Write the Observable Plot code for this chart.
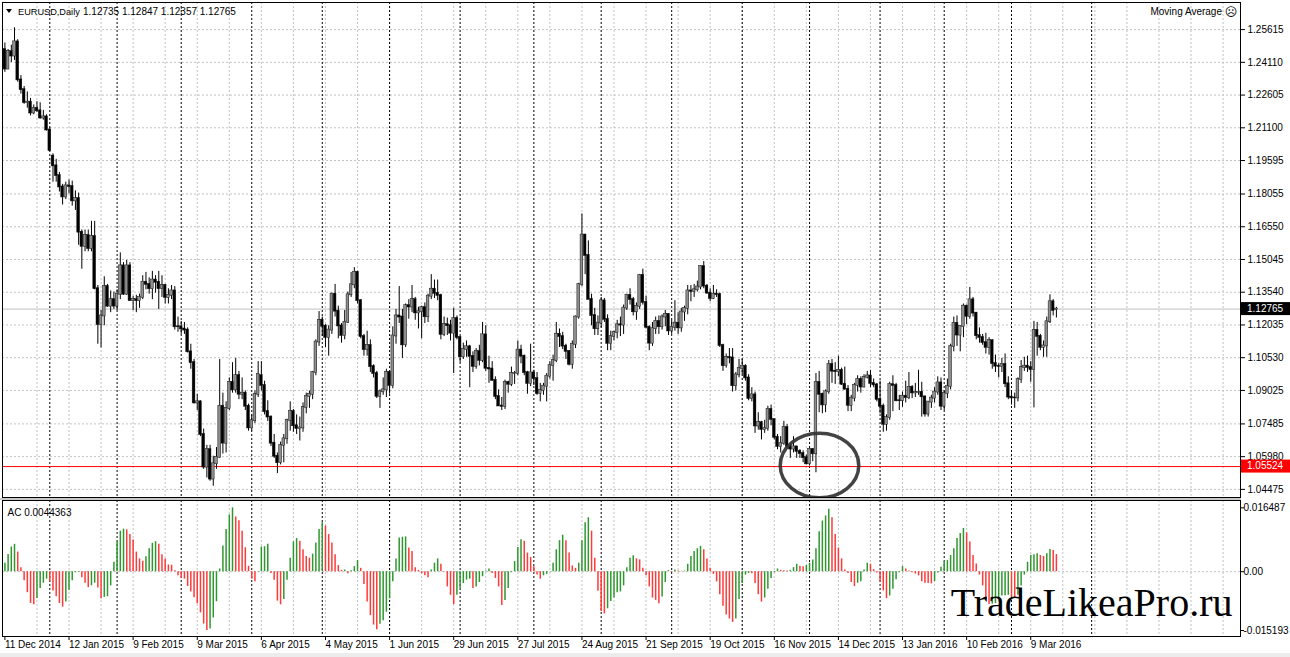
<!DOCTYPE html>
<html><head><meta charset="utf-8">
<script src="https://cdn.jsdelivr.net/npm/d3@7"></script>
<script src="https://cdn.jsdelivr.net/npm/@observablehq/plot@0.6"></script>
<style>
html,body{margin:0;padding:0;background:#fff;}
#chart{position:relative;width:1290px;height:657px;overflow:hidden;background:#fff;}
#chart svg{position:absolute;left:0;}
</style></head><body><div id="chart"></div>
<script>
// ---------------- DATA ----------------
const symbolTitle = "EURUSD,Daily";
const headerQuote = [1.12735, 1.12847, 1.12357, 1.12765];
const indicatorName = "Moving Average";
const acLabel = "AC 0.0044363";
const watermark = "TradeLikeaPro.ru";
const bidPrice = 1.12765;
const levelPrice = 1.05524;
const priceTicks = [1.25615, 1.24110, 1.22605, 1.21100, 1.19595, 1.18055, 1.16550, 1.15045, 1.13540, 1.12035, 1.10530, 1.09025, 1.07485, 1.05980, 1.04475];
const acTicks = [0.016487, 0, -0.015193];
const dateLabels = ["11 Dec 2014","12 Jan 2015","9 Feb 2015","9 Mar 2015","6 Apr 2015","4 May 2015","1 Jun 2015","29 Jun 2015","27 Jul 2015","24 Aug 2015","21 Sep 2015","19 Oct 2015","16 Nov 2015","14 Dec 2015","13 Jan 2016","10 Feb 2016","9 Mar 2016"];
const dateLabelBars = [0,20,40,60,80,100,120,140,160,180,200,220,240,260,280,300,320];
const monthStarts = [14,35,55,77,99,120,142,165,186,208,230,251,273,293,314,339];
const annotation = [{bar: 254.1, price: 1.05574}];

const opens = [
1.2470,1.2380,
1.2460,1.2440,1.2505,1.2330,1.2285,
1.2226,1.2228,1.2178,1.2200,
1.2188,1.2155,1.2160,1.2100,
1.1980,1.1935,1.1890,1.1838,1.1792,
1.1843,1.1840,1.1774,1.1785,1.1630,
1.1565,1.1615,1.1555,1.1610,1.1370,
1.1205,1.1245,1.1380,1.1290,1.1320,
1.1290,1.1345,1.1475,1.1345,1.1475,
1.1315,1.1320,1.1315,1.1330,1.1400,
1.1390,1.1370,1.1410,1.1400,1.1370,
1.1385,1.1330,1.1340,1.1360,1.1195,
1.1195,1.1185,1.1180,1.1080,1.1030,
1.0845,1.0850,1.0700,1.0550,1.0630,
1.0495,1.0565,1.0595,1.0830,1.0660,
1.0820,1.0940,1.0905,1.0970,1.0885,
1.0890,1.0830,1.0730,1.0763,1.0885,
1.0970,1.0925,1.0805,1.0780,1.0660,
1.0600,1.0570,1.0650,1.0680,1.0765,
1.0805,1.0740,1.0727,1.0730,1.0825,
1.0875,1.0885,1.0985,1.1125,1.1225,
1.1198,1.1146,1.1180,1.1345,1.1267,
1.1199,1.1155,1.1216,1.1342,1.1388,
1.1446,1.1315,1.1150,1.1090,1.1109,
1.1012,1.0980,1.0875,1.0896,1.0905,
1.0986,1.0925,1.1153,1.1245,1.1240,
1.1112,1.1292,1.1286,1.1320,1.1259,
1.1264,1.1283,1.1241,1.1336,1.1368,
1.1349,1.1339,1.1160,1.1205,1.1200,
1.1166,1.1233,1.1146,1.1057,1.1090,
1.1103,1.1059,1.1013,1.1081,1.1041,
1.1158,1.1004,1.1001,1.0949,1.0875,
1.0831,1.0829,1.0939,1.0931,1.0980,
1.0981,1.1088,1.1060,1.0984,1.0935,
1.0983,1.0957,1.0888,1.0902,1.0922,
1.0968,1.1016,1.1039,1.1161,1.1150,
1.1106,1.1082,1.1023,1.1114,1.1240,
1.1389,1.1617,1.1523,1.1321,1.1247,
1.1186,1.1212,1.1314,1.1229,1.1119,
1.1150,1.1168,1.1204,1.1203,1.1281,
1.1340,1.1320,1.1264,1.1289,1.1432,
1.1307,1.1193,1.1120,1.1186,1.1220,
1.1195,1.1240,1.1252,1.1176,1.1193,
1.1212,1.1190,1.1263,1.1280,1.1360,
1.1358,1.1365,1.1378,1.1472,1.1382,
1.1350,1.1325,1.1345,1.1343,1.1109,
1.1016,1.1054,1.1052,1.0924,1.0974,
1.1003,1.1014,1.0960,1.0865,1.0882,
1.0739,1.0754,1.0723,1.0728,1.0815,
1.0769,1.0687,1.0645,1.0658,1.0732,
1.0645,1.0633,1.0643,1.0622,1.0612,
1.0593,1.0565,1.0631,1.0611,1.0939,
1.0885,1.0836,1.0896,1.1022,1.0991,
1.0989,1.0995,1.0931,1.0908,1.0834,
1.0867,1.0926,1.0953,1.0918,
1.0963,1.0969,1.0935,1.0928,
1.0861,1.0830,1.0747,1.0777,1.0929,
1.0925,1.0855,1.0855,1.0876,1.0869,
1.0917,1.0891,1.0893,1.0894,1.0873,
1.0794,1.0849,1.0867,1.0895,1.0937,
1.0830,1.0888,1.0920,1.1104,1.1211,
1.1157,1.1196,1.1290,1.1243,1.1319,
1.1258,1.1154,1.1146,1.1122,1.1100,
1.1131,1.1026,1.1014,1.1013,1.1022,
1.0933,1.0872,1.0868,1.0868,1.0953,
1.1008,1.1014,1.1008,1.0998,1.1179,
1.1151,1.1101,1.1107,1.1218,1.1310,
1.12735];

const highs = [
1.2500,1.2470,
1.2490,1.2570,1.2515,1.2350,1.2300,
1.2275,1.2245,1.2215,1.2230,
1.2225,1.2190,1.2170,1.2110,
1.1990,1.1965,1.1905,1.1850,1.1860,
1.1870,1.1865,1.1820,1.1810,1.1640,
1.1640,1.1640,1.1680,1.1680,1.1385,
1.1270,1.1425,1.1390,1.1360,1.1355,
1.1365,1.1535,1.1490,1.1500,1.1490,
1.1335,1.1340,1.1345,1.1430,1.1445,
1.1420,1.1450,1.1430,1.1450,1.1430,
1.1390,1.1370,1.1385,1.1380,1.1240,
1.1220,1.1215,1.1190,1.1115,1.1045,
1.0885,1.0855,1.0725,1.0650,1.0650,
1.0600,1.0640,1.1045,1.0890,1.0850,
1.0960,1.1030,1.1050,1.0990,1.0960,
1.0900,1.0840,1.0790,1.0900,1.1035,
1.1035,1.0945,1.0855,1.0785,1.0700,
1.0615,1.0665,1.0700,1.0770,1.0850,
1.0815,1.0790,1.0780,1.0845,1.0890,
1.0900,1.0990,1.1135,1.1265,1.1240,
1.1205,1.1200,1.1350,1.1390,1.1290,
1.1210,1.1270,1.1355,1.1445,1.1467,
1.1450,1.1320,1.1160,1.1175,1.1135,
1.1020,1.0990,1.0905,1.0960,1.1000,
1.0990,1.1195,1.1275,1.1380,1.1275,
1.1300,1.1320,1.1385,1.1330,1.1285,
1.1290,1.1305,1.1345,1.1435,1.1410,
1.1410,1.1345,1.1240,1.1235,1.1225,
1.1280,1.1245,1.1150,1.1120,1.1130,
1.1110,1.1080,1.1095,1.1110,1.1215,
1.1200,1.1060,1.1035,1.0965,1.0905,
1.0870,1.0950,1.0945,1.1010,1.0990,
1.1130,1.1110,1.1065,1.0990,1.1115,
1.0995,1.0985,1.0935,1.0935,1.0980,
1.1035,1.1065,1.1215,1.1185,1.1170,
1.1115,1.1085,1.1130,1.1245,1.1395,
1.1714,1.1620,1.1590,1.1345,1.1280,
1.1245,1.1330,1.1325,1.1250,1.1175,
1.1175,1.1225,1.1240,1.1295,1.1345,
1.1370,1.1330,1.1305,1.1436,1.1460,
1.1335,1.1200,1.1215,1.1240,1.1245,
1.1250,1.1270,1.1255,1.1225,1.1315,
1.1260,1.1280,1.1290,1.1385,1.1385,
1.1390,1.1405,1.1475,1.1495,1.1390,
1.1370,1.1385,1.1365,1.1350,1.1115,
1.1070,1.1095,1.1095,1.0985,1.1045,
1.1045,1.1020,1.0975,1.0915,1.0895,
1.0800,1.0760,1.0765,1.0830,1.0835,
1.0770,1.0700,1.0690,1.0760,1.0745,
1.0660,1.0690,1.0645,1.0630,1.0625,
1.0605,1.0640,1.0635,1.0980,1.0990,
1.0890,1.0905,1.1040,1.1045,1.1030,
1.1060,1.1005,1.1010,1.0925,1.0880,
1.0935,1.0970,1.0965,1.0975,
1.0990,1.0995,1.0955,1.0935,
1.0945,1.0840,1.0790,1.0940,1.0970,
1.0935,1.0880,1.0895,1.0945,1.0985,
1.0925,1.0935,1.0995,1.0940,1.0875,
1.0850,1.0880,1.0915,1.0965,1.0960,
1.0900,1.0955,1.1115,1.1240,1.1245,
1.1200,1.1300,1.1295,1.1376,1.1330,
1.1260,1.1190,1.1160,1.1165,1.1145,
1.1135,1.1065,1.1025,1.1050,1.1070,
1.0965,1.0895,1.0890,1.0960,1.1040,
1.1055,1.1060,1.1035,1.1220,1.1215,
1.1160,1.1130,1.1240,1.1342,1.1320,
1.12847];

const lows = [
1.2365,1.2380,
1.2410,1.2420,1.2320,1.2265,1.2218,
1.2200,1.2165,1.2170,1.2180,
1.2150,1.2145,1.2095,1.2000,
1.1860,1.1860,1.1815,1.1755,1.1780,
1.1805,1.1750,1.1730,1.1570,1.1460,
1.1540,1.1540,1.1540,1.1365,1.1115,
1.1098,1.1200,1.1285,1.1260,1.1275,
1.1270,1.1320,1.1340,1.1340,1.1315,
1.1270,1.1260,1.1280,1.1320,1.1365,
1.1345,1.1320,1.1350,1.1275,1.1330,
1.1300,1.1300,1.1320,1.1180,1.1170,
1.1160,1.1160,1.1075,1.1000,1.0840,
1.0810,1.0690,1.0540,1.0500,1.0485,
1.0462,1.0540,1.0590,1.0610,1.0615,
1.0810,1.0890,1.0890,1.0860,1.0860,
1.0810,1.0715,1.0715,1.0750,1.0870,
1.0900,1.0790,1.0760,1.0645,1.0590,
1.0520,1.0560,1.0570,1.0655,1.0715,
1.0710,1.0700,1.0670,1.0710,1.0795,
1.0820,1.0860,1.0970,1.1105,1.1150,
1.1100,1.1060,1.1160,1.1240,1.1140,
1.1120,1.1135,1.1210,1.1330,1.1370,
1.1300,1.1140,1.1060,1.1060,1.0985,
1.0960,1.0865,1.0820,1.0880,1.0870,
1.0885,1.0910,1.1115,1.1210,1.1050,
1.1100,1.1230,1.1260,1.1225,1.1185,
1.1140,1.1210,1.1215,1.1320,1.1325,
1.1315,1.1135,1.1150,1.1155,1.1130,
1.0980,1.1135,1.1030,1.1045,1.1055,
1.0915,1.0985,1.1000,1.1015,1.1030,
1.0990,1.0935,1.0945,1.0860,1.0830,
1.0810,1.0815,1.0890,1.0920,1.0930,
1.0970,1.1025,1.0970,1.0885,1.0920,
1.0925,1.0880,1.0850,1.0880,1.0850,
1.0955,1.0945,1.1030,1.1100,1.1090,
1.1045,1.1015,1.1000,1.1095,1.1230,
1.1380,1.1435,1.1320,1.1200,1.1155,
1.1155,1.1190,1.1215,1.1085,1.1085,
1.1130,1.1140,1.1150,1.1160,1.1270,
1.1295,1.1245,1.1225,1.1275,1.1295,
1.1185,1.1085,1.1105,1.1160,1.1160,
1.1180,1.1195,1.1155,1.1160,1.1175,
1.1160,1.1170,1.1220,1.1250,1.1310,
1.1330,1.1355,1.1365,1.1370,1.1345,
1.1310,1.1320,1.1330,1.1100,1.0990,
1.1005,1.1025,1.0895,1.0900,1.0960,
1.0975,1.0945,1.0855,1.0850,1.0705,
1.0720,1.0675,1.0705,1.0715,1.0740,
1.0675,1.0630,1.0615,1.0650,1.0635,
1.0590,1.0615,1.0590,1.0590,1.0570,
1.0560,1.0555,1.0575,1.0524,1.0800,
1.0795,1.0800,1.0885,1.0935,1.0930,
1.0965,1.0925,1.0905,1.0805,1.0805,
1.0850,1.0895,1.0890,1.0915,
1.0955,1.0915,1.0915,1.0850,
1.0795,1.0710,1.0715,1.0765,1.0805,
1.0850,1.0810,1.0825,1.0845,1.0860,
1.0865,1.0870,1.0880,1.0780,1.0780,
1.0780,1.0820,1.0845,1.0880,1.0810,
1.0810,1.0865,1.0905,1.1080,1.1105,
1.1080,1.1145,1.1205,1.1230,1.1240,
1.1135,1.1120,1.1110,1.1070,1.1065,
1.1000,1.0985,1.0960,1.0985,1.0915,
1.0860,1.0835,1.0820,1.0850,1.0935,
1.0990,1.0985,1.0940,1.0822,1.1060,
1.1085,1.1055,1.1055,1.1210,1.1245,
1.12357];

const closes = [
1.2380,1.2460,
1.2440,1.2505,1.2330,1.2285,1.2226,
1.2228,1.2178,1.2200,1.2188,
1.2155,1.2160,1.2100,1.2005,
1.1935,1.1890,1.1838,1.1792,1.1843,
1.1840,1.1774,1.1785,1.1630,1.1565,
1.1615,1.1555,1.1610,1.1370,1.1205,
1.1245,1.1380,1.1290,1.1320,1.1290,
1.1345,1.1475,1.1345,1.1475,1.1315,
1.1320,1.1315,1.1330,1.1400,1.1390,
1.1370,1.1410,1.1400,1.1370,1.1385,
1.1330,1.1340,1.1360,1.1195,1.1195,
1.1185,1.1180,1.1080,1.1030,1.0845,
1.0850,1.0700,1.0550,1.0630,1.0495,
1.0565,1.0595,1.0830,1.0660,1.0820,
1.0940,1.0905,1.0970,1.0885,1.0890,
1.0830,1.0730,1.0763,1.0885,1.0975,
1.0925,1.0805,1.0780,1.0660,1.0600,
1.0570,1.0650,1.0680,1.0765,1.0805,
1.0740,1.0727,1.0730,1.0825,1.0875,
1.0885,1.0985,1.1125,1.1225,1.1198,
1.1146,1.1180,1.1345,1.1267,1.1199,
1.1155,1.1216,1.1342,1.1388,1.1446,
1.1315,1.1150,1.1090,1.1109,1.1012,
1.0980,1.0875,1.0896,1.0905,1.0986,
1.0925,1.1153,1.1245,1.1240,1.1112,
1.1292,1.1286,1.1320,1.1259,1.1264,
1.1283,1.1241,1.1336,1.1368,1.1349,
1.1339,1.1160,1.1205,1.1200,1.1166,
1.1233,1.1146,1.1057,1.1090,1.1103,
1.1059,1.1013,1.1081,1.1041,1.1158,
1.1004,1.1001,1.0949,1.0875,1.0831,
1.0829,1.0939,1.0931,1.0980,1.0981,
1.1088,1.1060,1.0984,1.0935,1.0983,
1.0957,1.0888,1.0902,1.0922,1.0968,
1.1016,1.1039,1.1161,1.1150,1.1106,
1.1082,1.1023,1.1114,1.1240,1.1389,
1.1617,1.1523,1.1321,1.1247,1.1186,
1.1212,1.1314,1.1229,1.1119,1.1150,
1.1168,1.1204,1.1203,1.1281,1.1340,
1.1320,1.1264,1.1289,1.1432,1.1307,
1.1193,1.1120,1.1186,1.1220,1.1195,
1.1240,1.1252,1.1176,1.1193,1.1212,
1.1190,1.1263,1.1280,1.1360,1.1358,
1.1365,1.1378,1.1472,1.1382,1.1350,
1.1325,1.1345,1.1343,1.1109,1.1016,
1.1054,1.1052,1.0924,1.0974,1.1003,
1.1014,1.0960,1.0865,1.0882,1.0739,
1.0754,1.0723,1.0728,1.0815,1.0769,
1.0687,1.0645,1.0658,1.0732,1.0645,
1.0633,1.0643,1.0622,1.0612,1.0593,
1.0565,1.0631,1.0611,1.0939,1.0885,
1.0836,1.0896,1.1022,1.0991,1.0989,
1.0995,1.0931,1.0908,1.0834,1.0867,
1.0926,1.0953,1.0918,1.0963,
1.0969,1.0935,1.0928,1.0861,
1.0830,1.0747,1.0777,1.0929,1.0925,
1.0855,1.0855,1.0876,1.0869,1.0917,
1.0891,1.0893,1.0894,1.0873,1.0794,
1.0849,1.0867,1.0895,1.0937,1.0830,
1.0888,1.0920,1.1104,1.1211,1.1157,
1.1196,1.1290,1.1243,1.1319,1.1258,
1.1154,1.1146,1.1122,1.1100,1.1131,
1.1026,1.1014,1.1013,1.1022,1.0933,
1.0872,1.0868,1.0868,1.0953,1.1008,
1.1014,1.1008,1.0998,1.1179,1.1151,
1.1101,1.1107,1.1218,1.1310,1.1270,
1.12765];

const acValues = [
0.00218,0.00445,0.00637,0.00706,0.00506,0.00105,-0.00235,-0.00541,-0.0082,-0.00855,
-0.00689,-0.00436,-0.00296,-0.00192,-0.00262,-0.00497,-0.00645,-0.0082,-0.00916,-0.00785,
-0.0048,-0.00235,-0.00026,-0.00017,-0.00157,-0.00296,-0.0041,-0.00366,-0.00296,-0.00419,
-0.00698,-0.00663,-0.00645,-0.00366,0.00244,0.00767,0.01046,0.01099,0.01081,0.00959,
0.0082,0.00506,0.00331,0.0027,0.00384,0.00593,0.00732,0.00776,0.00706,0.00436,
0.00331,0.00174,0.00166,0.00026,-0.00105,-0.00166,-0.00192,-0.00384,-0.00523,-0.00671,
-0.00828,-0.01064,-0.01352,-0.015193,-0.01482,-0.01195,-0.00776,0.0007,0.00663,0.0109,
0.01465,0.016487,0.01413,0.01317,0.01046,0.00619,0.0014,-0.00192,-0.00262,-0.00017,
0.00637,0.00645,0.00706,-0.00044,-0.00218,-0.00759,-0.00855,-0.00715,-0.00218,0.00349,
0.00767,0.00855,0.00785,0.00567,0.00392,0.00349,0.00453,0.00741,0.0109,0.01264,
0.01177,0.00959,0.00741,0.00436,0.00157,0.00035,0.00044,-0.00052,0.00026,0.00131,
0.00288,0.00087,-0.00331,-0.00785,-0.01134,-0.01378,-0.015,-0.0136,-0.01264,-0.01046,
-0.00698,-0.00262,0.00331,0.00872,0.00889,0.00898,0.0061,0.00523,0.00105,0.00035,
-0.00052,-0.00105,-0.00157,0.00044,0.00218,0.00331,0.00192,-0.00017,-0.00392,-0.0061,
-0.00846,-0.0061,-0.00436,-0.00305,-0.00218,-0.00192,-0.00436,-0.00392,-0.00279,-0.00131,
0.00017,0.0007,-0.00044,-0.00174,-0.00392,-0.00872,-0.00741,-0.00436,-0.00026,0.00262,
0.00628,0.00828,0.00785,0.0048,0.00366,0.00131,-0.00087,-0.00192,-0.00105,-0.0007,
0.00002,0.00218,0.00567,0.00802,0.00942,0.00802,0.0048,0.00148,0.00087,0.00218,
0.00802,0.01264,0.01395,0.01046,0.00349,-0.00506,-0.01029,-0.0109,-0.00959,-0.00767,
-0.0068,-0.00541,-0.00523,-0.00366,0.00105,0.00349,0.0041,0.00331,0.00305,0.00087,
-0.00105,-0.00392,-0.0068,-0.00741,-0.00828,-0.00654,-0.00279,0.00026,-0.00017,0.00044,
0.00017,0.00009,0.00017,0.00192,0.00392,0.00523,0.00593,0.00654,0.00567,0.00331,
0.00087,-0.0007,-0.00262,-0.00593,-0.00889,-0.01116,-0.01221,-0.01308,-0.01221,-0.00715,
-0.00305,-0.00087,-0.00044,-0.00052,-0.00305,-0.00593,-0.00785,-0.0068,-0.00453,-0.00174,
-0.00026,0.0007,0.00035,0.00026,0.00017,0.00035,0.00105,0.00192,0.0014,0.00131,
0.00157,0.00218,0.00305,0.00593,0.01029,0.01308,0.01439,0.01613,0.01395,0.00959,
0.0061,0.00331,0.00044,-0.00044,-0.00279,-0.00384,-0.00296,-0.00262,0.00044,0.00218,
0.00192,0.00052,-0.00035,-0.00262,-0.00497,-0.00698,-0.00628,-0.00453,-0.00209,-0.00026,
0.00131,0.0007,0.00017,-0.00026,-0.00061,-0.00105,-0.00262,-0.00296,-0.00305,-0.00314,
-0.00253,-0.00035,0.00113,0.00262,0.00288,0.00419,0.00593,0.00855,0.00985,0.01116,
0.01003,0.00767,0.00419,0.00201,-0.00087,-0.00366,-0.00715,-0.00846,-0.00837,-0.0082,
-0.00715,-0.00628,-0.00619,-0.0061,-0.0066,-0.00672,-0.0061,-0.00366,-0.00087,0.00244,
0.00419,0.00436,0.00462,0.00419,0.00392,0.00462,0.00576,0.00549,0.0044363];

// ---------------- CHART ----------------
const FONT = '"Liberation Sans", Arial, sans-serif';
const X_DOMAIN = [-0.749, 385.43];
const GREEN = "#2f972f", RED = "#ff3a3a";
const gridBars = d3.range(10, 390, 10);

const bars = closes.map((c, i) => ({i, o: opens[i], h: highs[i], l: lows[i], c}));
const acBars = acValues.map((v, i) => ({i, v, col: (i === 0 || v > acValues[i - 1]) ? GREEN : RED}));
const dateTicks = dateLabels.map((label, k) => ({label, bar: dateLabelBars[k]}));

const ellipseSymbol = {
  draw(ctx, size) {
    const r = Math.sqrt(size / Math.PI), rx = r * 1.19, ry = r * 0.98, k = 0.5523;
    ctx.moveTo(rx, 0);
    ctx.bezierCurveTo(rx, ry * k, rx * k, ry, 0, ry);
    ctx.bezierCurveTo(-rx * k, ry, -rx, ry * k, -rx, 0);
    ctx.bezierCurveTo(-rx, -ry * k, -rx * k, -ry, 0, -ry);
    ctx.bezierCurveTo(rx * k, -ry, rx, -ry * k, rx, 0);
    ctx.closePath();
  }
};

const mainPlot = Plot.plot({
  width: 1290, height: 498,
  marginLeft: 2, marginRight: 50, marginTop: 2, marginBottom: 1,
  style: {fontFamily: FONT, fontSize: "10px", background: "none", color: "#000", overflow: "visible"},
  x: {domain: X_DOMAIN, axis: null},
  y: {domain: [1.04102, 1.26861], axis: "right", ticks: priceTicks, tickFormat: d => d.toFixed(5), tickSize: 4, tickPadding: 3, label: null},
  color: {type: "identity"},
  marks: [
    Plot.ruleY(priceTicks, {stroke: "#c2c2c2", strokeDasharray: "2,2"}),
    Plot.ruleX(gridBars, {stroke: "#c2c2c2", strokeDasharray: "2,2"}),
    Plot.ruleX(monthStarts, {stroke: "#000", strokeDasharray: "2,2"}),
    Plot.ruleY([bidPrice], {stroke: "#c0c0c0"}),
    Plot.ruleY([levelPrice], {stroke: "#ff0000"}),
    Plot.ruleX(bars, {x: "i", y1: "l", y2: "h", stroke: "#000", strokeWidth: 1}),
    Plot.rect(bars, {x1: d => d.i - 0.42, x2: d => d.i + 0.42, y1: "o", y2: "c", insetTop: -0.5, insetBottom: -0.5,
      fill: d => d.c > d.o ? "#8e8e8e" : "#000", stroke: "#111", strokeWidth: 0.5}),
    Plot.dot(annotation, {x: "bar", y: "price", r: 33, symbol: ellipseSymbol, stroke: "#333", strokeWidth: 3.5, strokeOpacity: 0.92, fill: "none"}),
    Plot.frame({stroke: "#000"})
  ]
});

const subPlot = Plot.plot({
  width: 1290, height: 159,
  marginLeft: 2, marginRight: 50, marginTop: 2, marginBottom: 21,
  style: {fontFamily: FONT, fontSize: "10px", background: "none", color: "#000", overflow: "visible"},
  x: {domain: X_DOMAIN, axis: null},
  y: {domain: [-0.016731, 0.018384], axis: "right", ticks: acTicks, tickFormat: d => d === 0 ? "0.00" : d.toFixed(6), tickSize: 3, tickPadding: 0, label: null},
  color: {type: "identity"},
  marks: [
    Plot.ruleY([0], {stroke: "#c2c2c2", strokeDasharray: "2,2"}),
    Plot.ruleX(gridBars, {stroke: "#c2c2c2", strokeDasharray: "2,2"}),
    Plot.ruleX(monthStarts, {stroke: "#000", strokeDasharray: "2,2"}),
    Plot.ruleX(acBars, {x: "i", y1: 0, y2: "v", stroke: "col", strokeWidth: 1.5}),
    Plot.ruleX(dateTicks, {x: "bar", insetTop: 136, insetBottom: -4, stroke: "#000"}),
    Plot.text(dateTicks, {x: "bar", text: "label", frameAnchor: "bottom", dy: 11, textAnchor: "start", fill: "#000"}),
    Plot.text([acLabel], {frameAnchor: "top-left", dx: 5, dy: 8, textAnchor: "start", fill: "#000"}),
    Plot.text([watermark], {frameAnchor: "bottom-right", dx: -8, dy: -21, textAnchor: "end", fontFamily: '"Liberation Serif", "Times New Roman", serif', fontSize: 40, fill: "#000"}),
    Plot.frame({stroke: "#000"})
  ]
});

const chart = document.getElementById("chart");
mainPlot.style.top = "0px";
subPlot.style.top = "498px";
chart.appendChild(mainPlot);
chart.appendChild(subPlot);

// separator between panes
const sep = document.createElement("div");
sep.style.cssText = "position:absolute;left:0;top:498px;width:1241px;height:2px;background:#c8c8c8;";
chart.appendChild(sep);
const foot = document.createElement("div");
foot.style.cssText = "position:absolute;left:0;top:653px;width:1290px;height:4px;background:#ececec;";
chart.appendChild(foot);

// price labels for the bid line and the level line
const svgMain = d3.select(mainPlot);
const yMain = mainPlot.scale("y");
[[bidPrice, "#000"], [levelPrice, "#ff0000"]].forEach(([p, col]) => {
  const yy = yMain.apply(p);
  svgMain.append("rect").attr("x", 1241).attr("y", yy - 6.5).attr("width", 49).attr("height", 13).attr("fill", col);
  svgMain.append("text").attr("x", 1247).attr("y", yy).attr("dy", "0.32em").attr("text-anchor", "start").attr("fill", "#fff")
    .attr("font-family", FONT).attr("font-size", 10).text(p.toFixed(5));
});

// header
svgMain.append("path").attr("d", "M6,9 L12,9 L9,13 Z").attr("fill", "#000");
svgMain.append("text").attr("x", 18).attr("y", 12).attr("dy", "0.32em").attr("text-anchor", "start").attr("font-family", FONT).attr("font-size", 9.2).text(symbolTitle);
svgMain.append("text").attr("x", 83).attr("y", 12).attr("dy", "0.32em").attr("text-anchor", "start").attr("font-family", FONT).attr("font-size", 10)
  .text(headerQuote.map(v => v.toFixed(5)).join(" "));
svgMain.append("text").attr("x", 1222).attr("y", 12).attr("dy", "0.32em").attr("text-anchor", "end").attr("font-family", FONT).attr("font-size", 10).text(indicatorName);
svgMain.append("text").attr("x", 1231).attr("y", 12).attr("dy", "0.35em").attr("text-anchor", "middle").attr("font-family", '"DejaVu Sans"').attr("font-size", 12).text("\u2639");
</script></body></html>
